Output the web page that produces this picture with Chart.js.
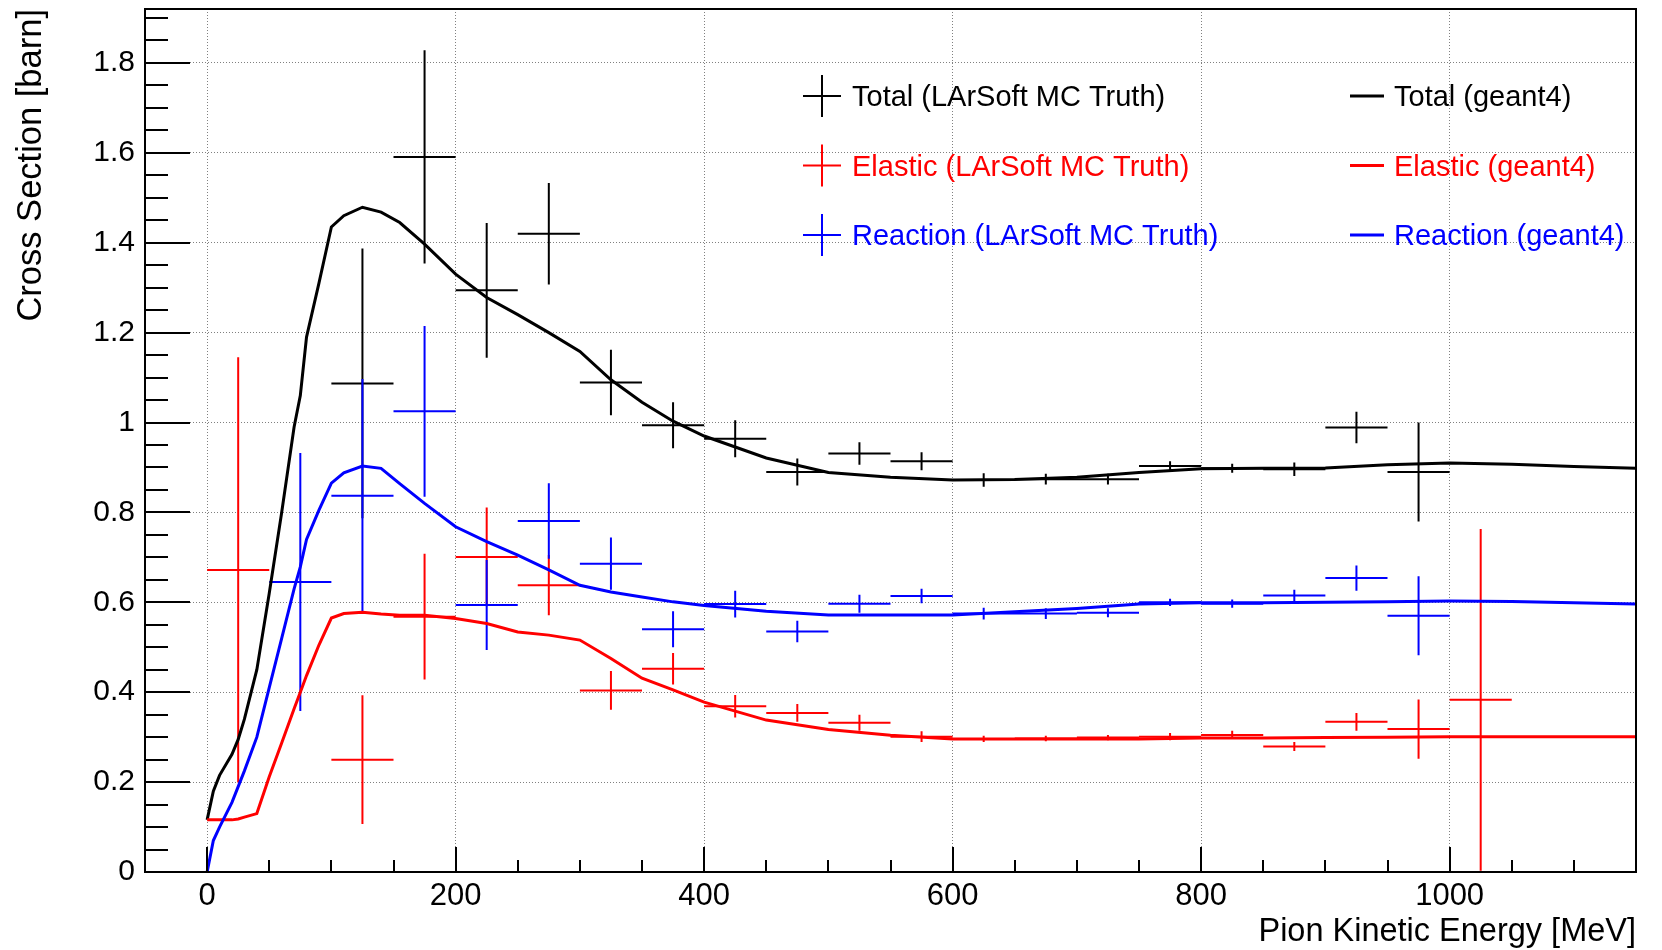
<!DOCTYPE html>
<html>
<head>
<meta charset="utf-8">
<title>Pion cross section</title>
<script src="https://cdn.jsdelivr.net/npm/chart.js@4.4.1/dist/chart.umd.min.js"></script>
<style>
  html, body { margin: 0; padding: 0; background: #fff; }
  #wrap { width: 1662px; height: 950px; }
</style>
</head>
<body>
<div id="wrap"><canvas id="xsec" width="1662" height="950"></canvas></div>
<script>
// MC truth points, 50 MeV bins
const binCenters = [25, 75, 125, 175, 225, 275, 325, 375, 425, 475, 525, 575, 625, 675, 725, 775, 825, 875, 925, 975, 1025];
const binHalfWidth = 25;

const totalMC     = [null, null, 1.087, 1.591, 1.294, 1.420, 1.089, 0.994, 0.964, 0.890, 0.931, 0.914, 0.872, 0.874, 0.874, 0.903, 0.898, 0.896, 0.989, 0.890, null];
const totalMCErr  = [null, null, 0.300, 0.237, 0.150, 0.113, 0.073, 0.051, 0.041, 0.030, 0.025, 0.020, 0.015, 0.012, 0.012, 0.011, 0.010, 0.015, 0.035, 0.110, null];

const elasticMC    = [0.672, null, 0.250, 0.568, 0.701, 0.638, 0.404, 0.452, 0.369, 0.354, 0.332, 0.301, 0.296, 0.297, 0.299, 0.301, 0.305, 0.279, 0.334, 0.318, 0.383];
const elasticMCErr = [0.473, null, 0.143, 0.140, 0.110, 0.067, 0.043, 0.035, 0.025, 0.020, 0.018, 0.012, 0.007, 0.006, 0.006, 0.008, 0.009, 0.010, 0.020, 0.066, 0.380];

const reactionMC    = [null, 0.645, 0.837, 1.025, 0.594, 0.781, 0.686, 0.540, 0.596, 0.535, 0.597, 0.614, 0.575, 0.575, 0.577, 0.600, 0.597, 0.615, 0.654, 0.570, null];
const reactionMCErr = [null, 0.287, 0.260, 0.190, 0.100, 0.084, 0.058, 0.040, 0.030, 0.024, 0.020, 0.016, 0.013, 0.012, 0.010, 0.008, 0.009, 0.013, 0.028, 0.088, null];

// geant4 curves
const g4Energy = [0, 5, 10, 20, 25, 30, 40, 50, 60, 70, 75, 80, 90, 100, 110, 125, 140, 155, 175, 200,
                  225, 250, 275, 300, 325, 350, 375, 400, 450, 500, 550, 600, 650, 700, 750, 800,
                  850, 900, 950, 1000, 1050, 1100, 1150];
const totalG4 = [0.116, 0.180, 0.215, 0.262, 0.295, 0.340, 0.450, 0.620, 0.800, 0.990, 1.060, 1.190, 1.310, 1.435, 1.460, 1.479, 1.468, 1.445, 1.397, 1.330,
                 1.278, 1.240, 1.200, 1.158, 1.095, 1.045, 1.003, 0.970, 0.921, 0.889, 0.878, 0.872, 0.873, 0.878, 0.889, 0.897,
                 0.898, 0.899, 0.906, 0.910, 0.907, 0.902, 0.898];
const elasticG4 = [0.116, 0.116, 0.116, 0.116, 0.118, 0.122, 0.130, 0.212, 0.287, 0.363, 0.400, 0.437, 0.505, 0.565, 0.575, 0.578, 0.574, 0.571, 0.571, 0.564,
                   0.553, 0.534, 0.527, 0.516, 0.475, 0.431, 0.405, 0.378, 0.338, 0.317, 0.304, 0.296, 0.296, 0.296, 0.296, 0.298,
                   0.298, 0.299, 0.300, 0.301, 0.301, 0.301, 0.301];
const reactionG4 = [0.000, 0.070, 0.100, 0.155, 0.190, 0.225, 0.300, 0.410, 0.520, 0.630, 0.679, 0.740, 0.805, 0.865, 0.888, 0.903, 0.898, 0.864, 0.820, 0.768,
                    0.735, 0.705, 0.672, 0.638, 0.623, 0.612, 0.601, 0.593, 0.580, 0.572, 0.572, 0.572, 0.579, 0.586, 0.596, 0.599,
                    0.599, 0.600, 0.601, 0.603, 0.602, 0.599, 0.596];

const xTickLabels = [0, 200, 400, 600, 800, 1000];
const yTickLabels = [0, 0.2, 0.4, 0.6, 0.8, 1.0, 1.2, 1.4, 1.6, 1.8];

const BLACK = "#000000", RED = "#ff0000", BLUE = "#0000ff";
const FONT = "'Liberation Sans', Arial, Helvetica, sans-serif";

// error crosses as broken line segments (null = pen up)
function crossSegments(values, errors) {
  const pts = [];
  binCenters.forEach((c, i) => {
    const v = values[i];
    if (v === null) return;
    const e = errors[i];
    pts.push({x: c - binHalfWidth, y: v}, {x: c + binHalfWidth, y: v}, {x: c, y: null});
    pts.push({x: c, y: v - e}, {x: c, y: v + e}, {x: c, y: null});
  });
  return pts;
}

function curve(values) {
  return g4Energy.map((e, i) => ({x: e, y: values[i]}));
}

function mcSet(label, values, errors, color, order) {
  return { label, data: crossSegments(values, errors), borderColor: color, borderWidth: 2,
           pointRadius: 0, pointHoverRadius: 0, spanGaps: false, tension: 0, order };
}
function g4Set(label, values, color, order) {
  return { label, data: curve(values), borderColor: color, borderWidth: 3,
           pointRadius: 0, pointHoverRadius: 0, tension: 0, order };
}

// ROOT style frame + inward ticks
const frameTicks = {
  id: "frameTicks",
  afterDatasetsDraw(chart) {
    const {ctx, chartArea: a, scales: {x, y}} = chart;
    ctx.save();
    ctx.strokeStyle = "#000";
    ctx.lineWidth = 2;
    ctx.beginPath();
    for (let v = 0; v <= 1.9001; v += 0.05) {
      const py = Math.round(y.getPixelForValue(v));
      const major = yTickLabels.some(t => Math.abs(t - v) < 1e-6);
      ctx.moveTo(a.left, py);
      ctx.lineTo(a.left + (major ? 45 : 23), py);
    }
    for (let v = 0; v <= 1150; v += 50) {
      const px = Math.round(x.getPixelForValue(v));
      const major = xTickLabels.includes(v);
      ctx.moveTo(px, a.bottom);
      ctx.lineTo(px, a.bottom - (major ? 25 : 12));
    }
    ctx.stroke();
    ctx.strokeRect(a.left, a.top, a.right - a.left, a.bottom - a.top);
    ctx.restore();
  }
};

const legendRows = [
  {text: "Total (LArSoft MC Truth)",    color: BLACK, kind: "cross"},
  {text: "Elastic (LArSoft MC Truth)",  color: RED,   kind: "cross"},
  {text: "Reaction (LArSoft MC Truth)", color: BLUE,  kind: "cross"},
  {text: "Total (geant4)",    color: BLACK, kind: "line"},
  {text: "Elastic (geant4)",  color: RED,   kind: "line"},
  {text: "Reaction (geant4)", color: BLUE,  kind: "line"}
];

const rootLegend = {
  id: "rootLegend",
  afterDraw(chart) {
    const ctx = chart.ctx;
    ctx.save();
    ctx.font = "29px " + FONT;
    ctx.textBaseline = "alphabetic";
    ctx.textAlign = "left";
    legendRows.forEach((r, i) => {
      const row = i % 3;
      const cy = 96 + row * 69.5;
      ctx.strokeStyle = r.color;
      ctx.fillStyle = r.color;
      ctx.beginPath();
      if (r.kind === "cross") {
        ctx.lineWidth = 2;
        ctx.moveTo(803, cy); ctx.lineTo(841, cy);
        ctx.moveTo(822, cy - 21); ctx.lineTo(822, cy + 21);
        ctx.stroke();
        ctx.fillText(r.text, 852, cy + 10);
      } else {
        ctx.lineWidth = 3;
        ctx.moveTo(1350, cy); ctx.lineTo(1384, cy);
        ctx.stroke();
        ctx.fillText(r.text, 1394, cy + 10);
      }
    });
    ctx.restore();
  }
};

new Chart(document.getElementById("xsec"), {
  type: "line",
  data: {
    datasets: [
      mcSet("Total (LArSoft MC Truth)", totalMC, totalMCErr, BLACK, 6),
      mcSet("Elastic (LArSoft MC Truth)", elasticMC, elasticMCErr, RED, 5),
      mcSet("Reaction (LArSoft MC Truth)", reactionMC, reactionMCErr, BLUE, 4),
      g4Set("Total (geant4)", totalG4, BLACK, 3),
      g4Set("Elastic (geant4)", elasticG4, RED, 2),
      g4Set("Reaction (geant4)", reactionG4, BLUE, 1)
    ]
  },
  options: {
    responsive: false,
    animation: false,
    devicePixelRatio: 1,
    layout: { padding: { left: 0, top: 9, right: 26, bottom: 0 } },
    plugins: { legend: { display: false }, tooltip: { enabled: false } },
    scales: {
      x: {
        type: "linear",
        min: -50, max: 1150,
        afterBuildTicks: s => { s.ticks = xTickLabels.map(v => ({value: v})); },
        afterFit: s => { s.height = 78; s.paddingLeft = 0; s.paddingRight = 0; },
        ticks: { color: "#000", font: { family: FONT, size: 31 }, padding: 6, maxRotation: 0, autoSkip: false,
                 callback: v => String(v) },
        grid: { color: "#808080", lineWidth: 1, drawTicks: false },
        border: { display: false, dash: [1, 2] },
        title: { display: true, text: "Pion Kinetic Energy [MeV]", align: "end", color: "#000",
                 font: { family: FONT, size: 32.5, lineHeight: 1 }, padding: { top: 0, bottom: 2 } }
      },
      y: {
        type: "linear",
        min: 0, max: 1.92,
        afterBuildTicks: s => { s.ticks = yTickLabels.map(v => ({value: v})); },
        afterFit: s => { s.width = 145; s.paddingTop = 0; s.paddingBottom = 0; },
        ticks: { color: "#000", font: { family: FONT, size: 30 }, padding: 10,
                 callback: v => String(+v.toFixed(2)) },
        grid: { color: "#808080", lineWidth: 1, drawTicks: false },
        border: { display: false, dash: [1, 2] },
        title: { display: true, text: "Cross Section [barn]", align: "end", color: "#000",
                 font: { family: FONT, size: 34.5 }, padding: { top: 11, bottom: 0 } }
      }
    }
  },
  plugins: [frameTicks, rootLegend]
});
</script>
</body>
</html>
